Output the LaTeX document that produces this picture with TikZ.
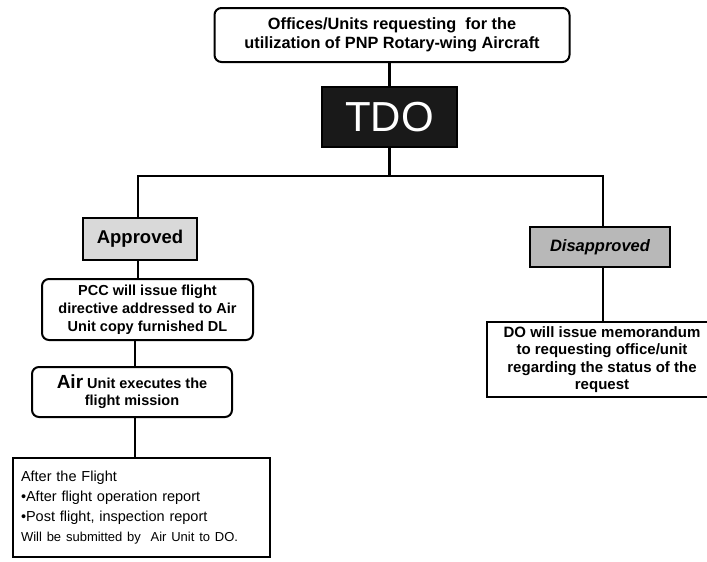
\documentclass[tikz,border=0pt]{standalone}
\usepackage{fontspec}
\setmainfont{Liberation Sans}
\begin{document}
\begin{tikzpicture}[x=1pt,y=-1pt,
  box/.style={draw=black,line width=2pt,inner sep=0pt,align=center,font=\bfseries\fontsize{14.5}{18}\selectfont},
  rbox/.style={box,rounded corners=7pt},
  conn/.style={line width=2.2pt}]
\clip (0,0) rectangle (707,562);
\fill[white] (0,0) rectangle (707,562);
\node[rbox,minimum width=355pt,minimum height=54pt,font=\bfseries\fontsize{16.3}{18.5}\selectfont] (top) at (392,35) {Offices/Units requesting\ \ for the\\utilization of PNP Rotary-wing Aircraft};
\node[box,fill=black!90,text=white,minimum width=135pt,minimum height=60pt,font=\fontsize{42}{42}\selectfont] (tdo) at (389.5,117) {TDO};
\node[box,fill=black!15,minimum width=114pt,minimum height=42pt,font=\bfseries\fontsize{18.5}{20}\selectfont] (appr) at (140,239) {Approved};
\node[box,fill=black!28,minimum width=140pt,minimum height=40pt,font=\bfseries\itshape\fontsize{16.5}{20}\selectfont] (disap) at (600,247) {Disapproved};
\node[rbox,minimum width=211pt,minimum height=61pt] (pcc) at (147.5,309.5) {PCC will issue flight\\directive addressed to Air\\Unit copy furnished DL};
\node[rbox,minimum width=200pt,minimum height=50pt,font=\bfseries\fontsize{14.5}{17}\selectfont] (air) at (132,392) {{\fontsize{19}{17}\selectfont Air} Unit executes the\\flight mission};
\node[box,minimum width=230pt,minimum height=75pt,font=\bfseries\fontsize{15}{17.5}\selectfont] (do) at (602,359.5) {DO will issue memorandum\\to requesting office/unit\\regarding the status of the\\request};
\node[box,minimum width=257pt,minimum height=99pt,text width=241pt,align=left,font=\fontsize{14.5}{20}\selectfont] (after) at (141.5,507.5) {After the Flight\\\textbullet After flight operation report\\\textbullet Post flight, inspection report\\{\fontsize{13}{20}\selectfont Will be submitted by\ \ Air Unit to DO.}};
\coordinate (jl) at (138,176);
\coordinate (jr) at (603,176);
\draw[conn] (tdo.north |- top.south) -- (tdo.north);
\draw[conn] (tdo.south) -- (tdo.south |- jl);
\draw[conn] (jl |- appr.north) -- (jl) -- (jr) -- (jr |- disap.north);
\draw[conn] (jl |- appr.south) -- (jl |- pcc.north);
\draw[conn] (jr |- disap.south) -- (jr |- do.north);
\coordinate (ja) at (135,0);
\draw[conn] (ja |- pcc.south) -- (ja |- air.north);
\draw[conn] (ja |- air.south) -- (ja |- after.north);
\end{tikzpicture}
\end{document}
